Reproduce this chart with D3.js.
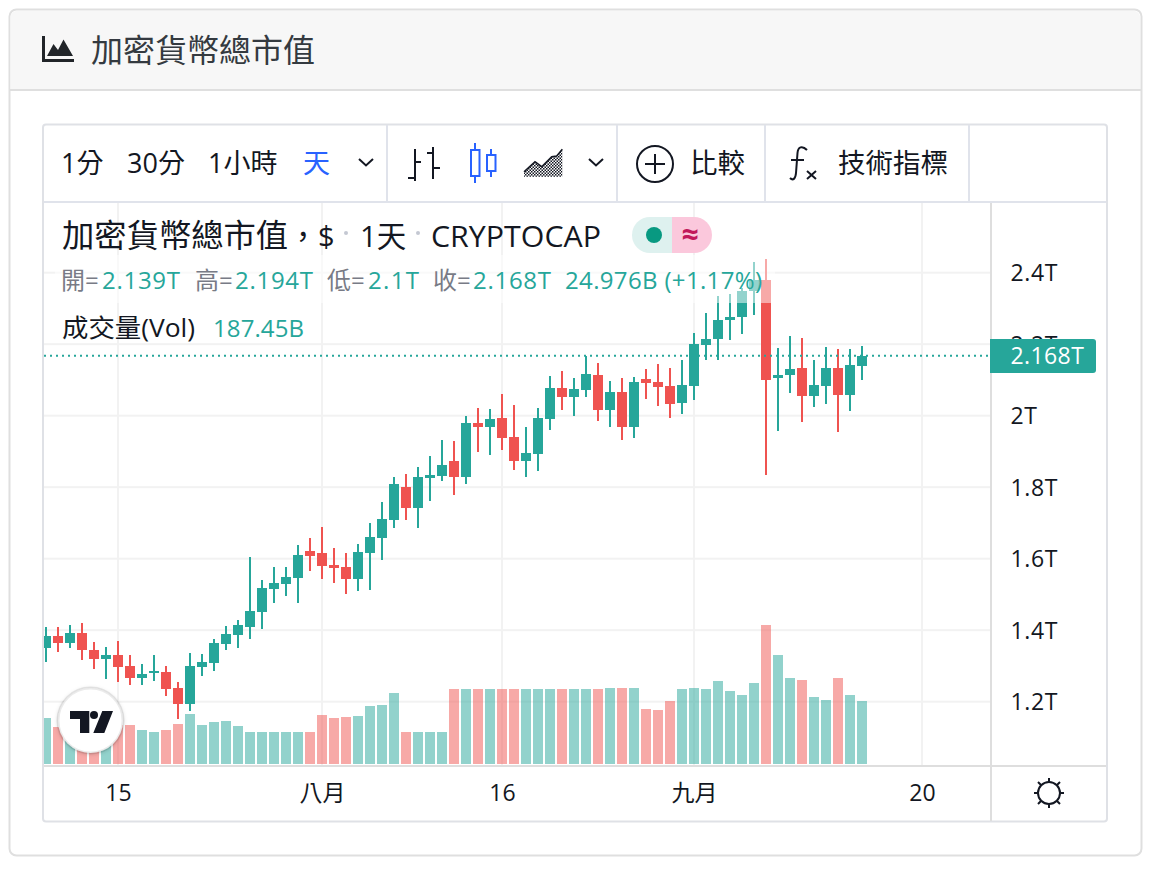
<!DOCTYPE html>
<html lang="zh-Hant">
<head>
<meta charset="utf-8">
<title>加密貨幣總市值</title>
<script src="https://cdnjs.cloudflare.com/ajax/libs/d3/7.8.5/d3.min.js"></script>
<style>
  html, body { margin: 0; padding: 0; background: #fff; }
  svg { display: block; }
  text { font-family: "Open Sans", "Noto Sans CJK TC", sans-serif; }
</style>
</head>
<body>
<svg id="chart" width="1154" height="870"></svg>
<script>
// Daily OHLC and volume for total crypto market cap, in trillions and billions of USD.
const firstDay = "2021-07-09";
const opens = [1.350,1.384,1.364,1.392,1.345,1.319,1.331,1.300,1.266,1.280,1.283,1.238,1.194,1.297,1.308,1.361,1.387,1.409,1.451,1.515,1.529,1.546,1.622,1.616,1.582,1.577,1.543,1.616,1.658,1.708,1.801,1.742,1.827,1.831,1.873,1.828,1.980,1.968,1.994,1.940,1.873,1.893,1.991,2.078,2.052,2.072,2.114,2.016,2.066,1.968,2.103,2.094,2.083,2.036,2.083,2.198,2.215,2.268,2.276,2.349,2.380,2.105,2.114,2.133,2.055,2.083,2.133,2.058,2.139];
const highs = [1.409,1.409,1.415,1.420,1.367,1.353,1.370,1.331,1.306,1.331,1.300,1.255,1.336,1.333,1.375,1.412,1.429,1.605,1.540,1.577,1.577,1.638,1.658,1.689,1.630,1.616,1.641,1.700,1.759,1.828,1.837,1.857,1.887,1.932,1.929,1.999,2.022,2.019,2.061,2.030,1.968,2.022,2.111,2.125,2.105,2.167,2.147,2.097,2.105,2.108,2.131,2.145,2.133,2.156,2.231,2.287,2.335,2.340,2.357,2.430,2.438,2.189,2.223,2.217,2.156,2.192,2.187,2.187,2.194];
const lows = [1.311,1.339,1.350,1.317,1.292,1.264,1.255,1.247,1.247,1.258,1.216,1.152,1.174,1.272,1.286,1.345,1.350,1.375,1.403,1.476,1.496,1.476,1.566,1.543,1.532,1.501,1.510,1.512,1.596,1.686,1.708,1.686,1.761,1.817,1.778,1.809,1.899,1.890,1.904,1.848,1.828,1.845,1.960,2.016,1.999,2.052,1.985,1.968,1.932,1.938,2.047,2.027,1.994,2.005,2.044,2.156,2.156,2.212,2.229,2.282,1.834,1.957,2.064,1.982,2.024,2.033,1.954,2.013,2.100];
const closes = [1.384,1.364,1.392,1.345,1.319,1.331,1.297,1.266,1.278,1.286,1.236,1.194,1.300,1.311,1.364,1.389,1.415,1.454,1.518,1.532,1.549,1.610,1.608,1.580,1.574,1.543,1.619,1.661,1.711,1.809,1.742,1.828,1.833,1.862,1.828,1.980,1.968,1.991,1.938,1.873,1.896,1.994,2.078,2.052,2.075,2.117,2.016,2.066,1.968,2.094,2.091,2.080,2.033,2.086,2.201,2.215,2.268,2.276,2.349,2.380,2.100,2.114,2.131,2.055,2.086,2.133,2.058,2.142,2.168];
const volumes = [137,110,125,116,92,92,116,116,101,95,101,119,149,116,125,128,113,95,95,95,95,95,95,146,137,140,143,173,176,211,95,95,95,95,223,223,223,223,223,223,223,223,223,223,223,223,223,226,226,226,164,161,187,223,226,223,247,217,205,241,414,324,256,250,199,190,256,205,187.45];

const priceTicks = [1.2, 1.4, 1.6, 1.8, 2.0, 2.2, 2.4];
const priceLabels = ["1.2T", "1.4T", "1.6T", "1.8T", "2T", "2.2T", "2.4T"];
const timeTicks = ["2021-07-15", "2021-08-01", "2021-08-16", "2021-09-01", "2021-09-20"];
const timeLabels = ["15", "八月", "16", "九月", "20"];

const lastPrice = 2.168;
const lastPriceLabel = "2.168T";
const volumeLabel = "187.45B";

const intervalLabels = [["1分", 61], ["30分", 127], ["1小時", 208]];
const ohlcLegend = [
  ["開=", 61, "2.139T", 102, 78], ["高=", 195, "2.194T", 235, 78],
  ["低=", 327, "2.1T", 368, 51], ["收=", 433, "2.168T", 473, 78]
];

const TEAL = "#26a69a", RED = "#ef5350", INK = "#131722";
const pane = { left: 44, right: 990, top: 203, bottom: 766 };

const svg = d3.select("#chart");
const parseDay = d3.utcParse("%Y-%m-%d");
const start = parseDay(firstDay);
const days = opens.map((_, i) => d3.utcDay.offset(start, i));

const x = d3.scaleUtc().domain([start, parseDay("2021-09-20")]).range([46, 922]);
const y = d3.scaleLinear().domain([1.2, 2.4]).range([701.7, 272.7]);
const yVolume = d3.scaleLinear().domain([0, 500]).range([764, 764 - 500 / 2.975]);

const defs = svg.append("defs");
defs.append("clipPath").attr("id", "pane-clip").append("rect")
  .attr("x", pane.left).attr("y", pane.top)
  .attr("width", pane.right - pane.left).attr("height", pane.bottom - pane.top);
const pattern = defs.append("pattern").attr("id", "checker")
  .attr("width", 3).attr("height", 3).attr("patternUnits", "userSpaceOnUse");
pattern.append("rect").attr("width", 1.5).attr("height", 1.5).attr("fill", INK);
pattern.append("rect").attr("x", 1.5).attr("y", 1.5).attr("width", 1.5).attr("height", 1.5).attr("fill", INK);
const shadow = defs.append("filter").attr("id", "logo-shadow")
  .attr("x", "-30%").attr("y", "-30%").attr("width", "160%").attr("height", "160%");
shadow.append("feDropShadow").attr("dx", 0).attr("dy", 1).attr("stdDeviation", 2)
  .attr("flood-color", "#000").attr("flood-opacity", 0.2);

// Card with its header strip
const card = svg.append("g");
card.append("rect").attr("x", 9.5).attr("y", 9.5).attr("width", 1132).attr("height", 846)
  .attr("rx", 7).attr("fill", "#fff").attr("stroke", "#dfdfdf").attr("stroke-width", 2);
card.append("path").attr("d", "M10.5 90V17a6 6 0 0 1 6-6H1134a6 6 0 0 1 6 6V90Z").attr("fill", "#f7f7f7");
card.append("rect").attr("x", 10).attr("y", 89).attr("width", 1131).attr("height", 2).attr("fill", "#dfdfdf");
card.append("path").attr("fill", "#212529")
  .attr("d", "M42 36h3v23h29v3H42Z M47 56l6.5-12 4.5 6 5.5-10.5L73 56Z");
card.append("text").text("加密貨幣總市值").attr("x", 91).attr("y", 62)
  .attr("font-size", 32).attr("fill", "#343a40");

// Price pane: grid, volume, candles, last-price line
const plot = svg.append("g").attr("clip-path", "url(#pane-clip)");

plot.append("g").selectAll("rect").data(priceTicks).join("rect")
  .attr("x", pane.left).attr("width", pane.right - pane.left)
  .attr("y", d => y(d) - 1).attr("height", 2).attr("fill", "#f2f2f2");
plot.append("g").selectAll("rect").data(timeTicks).join("rect")
  .attr("x", d => x(parseDay(d)) - 1).attr("width", 2)
  .attr("y", pane.top).attr("height", pane.bottom - pane.top).attr("fill", "#f2f2f2");

const barColor = i => (closes[i] >= opens[i] ? TEAL : RED);

plot.append("g").selectAll("rect").data(volumes).join("rect")
  .attr("x", (d, i) => x(days[i]) - 5).attr("width", 10)
  .attr("y", d => Math.round(yVolume(d))).attr("height", d => 764 - Math.round(yVolume(d)))
  .attr("fill", (d, i) => barColor(i)).attr("fill-opacity", 0.5);

plot.append("g").selectAll("rect").data(days).join("rect")
  .attr("x", d => x(d) - 1).attr("width", 2)
  .attr("y", (d, i) => Math.round(y(highs[i])))
  .attr("height", (d, i) => Math.round(y(lows[i])) - Math.round(y(highs[i])))
  .attr("fill", (d, i) => barColor(i));

plot.append("g").selectAll("rect").data(days).join("rect")
  .attr("x", d => x(d) - 5).attr("width", 10)
  .attr("y", (d, i) => Math.round(y(Math.max(opens[i], closes[i]))))
  .attr("height", (d, i) => Math.max(2, Math.round(y(Math.min(opens[i], closes[i]))) - Math.round(y(Math.max(opens[i], closes[i])))))
  .attr("fill", (d, i) => barColor(i));

plot.append("line").attr("x1", pane.left).attr("x2", pane.right)
  .attr("y1", y(lastPrice)).attr("y2", y(lastPrice))
  .attr("stroke", TEAL).attr("stroke-width", 2).attr("stroke-dasharray", "2 4");

// Veil behind the legend rows
plot.append("rect").attr("x", 55).attr("y", 255).attr("width", 720).attr("height", 48)
  .attr("fill", "#fff").attr("fill-opacity", 0.5);

// Chart frame and pane dividers
const frame = svg.append("g");
frame.append("rect").attr("x", 43).attr("y", 124.5).attr("width", 1064).attr("height", 697)
  .attr("rx", 3).attr("fill", "none").attr("stroke", "#dfe1e6").attr("stroke-width", 2);
const hRules = [[44, 1106, 202]];
const vRules = [[387, 125, 202], [617, 125, 202], [765, 125, 202], [969, 125, 202]];
frame.selectAll(".h").data(hRules).join("line").attr("class", "h")
  .attr("x1", d => d[0]).attr("x2", d => d[1]).attr("y1", d => d[2]).attr("y2", d => d[2])
  .attr("stroke", "#e0e3eb").attr("stroke-width", 2);
frame.selectAll(".v").data(vRules).join("line").attr("class", "v")
  .attr("x1", d => d[0]).attr("x2", d => d[0]).attr("y1", d => d[1]).attr("y2", d => d[2])
  .attr("stroke", "#e0e3eb").attr("stroke-width", 2);
frame.append("line").attr("x1", 44).attr("x2", 1106).attr("y1", 766).attr("y2", 766)
  .attr("stroke", "#dedede").attr("stroke-width", 2);
frame.append("line").attr("x1", 991).attr("x2", 991).attr("y1", 203).attr("y2", 821)
  .attr("stroke", "#dedede").attr("stroke-width", 2);

// Price axis
const priceAxis = d3.axisRight(y).tickValues(priceTicks)
  .tickFormat((d, i) => priceLabels[i]).tickSize(0).tickPadding(0);
const priceG = svg.append("g").attr("transform", "translate(1010.5,0)").call(priceAxis);
priceG.select(".domain").remove();
priceG.selectAll("text").attr("font-size", 23).attr("fill", INK)
  .attr("font-family", '"Open Sans"').attr("letter-spacing", 0.6).attr("dy", "0.35em");

// Time axis
const timeAxis = d3.axisBottom(x).tickValues(timeTicks.map(parseDay))
  .tickFormat((d, i) => timeLabels[i]).tickSize(0).tickPadding(0);
const timeG = svg.append("g").attr("transform", "translate(0,793)").call(timeAxis);
timeG.select(".domain").remove();
timeG.selectAll("text").attr("font-size", 23).attr("fill", INK).attr("y", 0).attr("dy", "0.35em");

// Last-price badge
svg.append("path").attr("fill", TEAL)
  .attr("d", "M990 339H1093a3 3 0 0 1 3 3V370a3 3 0 0 1-3 3H990Z");
svg.append("text").text(lastPriceLabel).attr("x", 1010.5).attr("y", y(lastPrice) + 8.5)
  .attr("font-size", 23).attr("letter-spacing", 0.4).attr("fill", "#fff");

// Legend
const legend = svg.append("g");
const title = (text, xPos, attrs = {}) => {
  const t = legend.append("text").text(text).attr("x", xPos).attr("y", 247)
    .attr("font-size", 32.3).attr("fill", INK);
  Object.entries(attrs).forEach(([k, v]) => t.attr(k, v));
  return t;
};
title("加密貨幣總市值", 62);
title("\uFF0C", 288, { "font-family": '"Noto Sans CJK TC"', "font-size": 30 });
title("$", 318, { "font-size": 29 });
title("1天", 360, { "font-size": 29.5 });
title("CRYPTOCAP", 431, { "font-size": 30, textLength: 170, lengthAdjust: "spacingAndGlyphs" });
legend.selectAll("circle.sep").data([346, 418]).join("circle").attr("class", "sep")
  .attr("cx", d => d).attr("cy", 233).attr("r", 2).attr("fill", "#c4c8d2");

ohlcLegend.forEach(([name, nameX, val, valX, valW]) => {
  legend.append("text").text(name).attr("x", nameX).attr("y", 289)
    .attr("font-size", 24).attr("fill", "#787b86");
  legend.append("text").text(val).attr("x", valX).attr("y", 289)
    .attr("font-size", 24).attr("fill", TEAL).attr("textLength", valW).attr("lengthAdjust", "spacing");
});
legend.append("text").text("24.976B (+1.17%)").attr("x", 565).attr("y", 289)
  .attr("font-size", 24).attr("fill", TEAL).attr("textLength", 197).attr("lengthAdjust", "spacing");
legend.append("text").text("成交量(Vol)").attr("x", 62).attr("y", 337)
  .attr("font-size", 25.5).attr("fill", INK).attr("textLength", 133).attr("lengthAdjust", "spacingAndGlyphs");
legend.append("text").text(volumeLabel).attr("x", 213).attr("y", 337)
  .attr("font-size", 24).attr("fill", TEAL).attr("textLength", 91).attr("lengthAdjust", "spacing");

// Status pill
legend.append("path").attr("d", "M672 217H650a18 18 0 0 0 0 36H672Z").attr("fill", "#def1ef");
legend.append("path").attr("d", "M672 217H694a18 18 0 0 1 0 36H672Z").attr("fill", "#fbc8dc");
legend.append("circle").attr("cx", 654).attr("cy", 235).attr("r", 8).attr("fill", "#089981");
legend.append("text").text("≈").attr("x", 690).attr("y", 245).attr("text-anchor", "middle")
  .attr("font-size", 30).attr("font-weight", 700).attr("fill", "#c2185b")
  .attr("font-family", '"DejaVu Sans"');

// Toolbar
const bar = svg.append("g");
intervalLabels.forEach(([t, xp]) => {
  bar.append("text").text(t).attr("x", xp).attr("y", 173).attr("font-size", 27).attr("fill", INK);
});
bar.append("text").text("天").attr("x", 303).attr("y", 173).attr("font-size", 27).attr("fill", "#2962ff");
bar.append("text").text("比較").attr("x", 690).attr("y", 173).attr("font-size", 27.5).attr("fill", INK);
bar.append("text").text("技術指標").attr("x", 838).attr("y", 173).attr("font-size", 27.5).attr("fill", INK);

const chevron = "l7 6.5l7 -6.5";
[359, 589].forEach(cx => {
  bar.append("path").attr("d", `M${cx} 159${chevron}`).attr("fill", "none")
    .attr("stroke", INK).attr("stroke-width", 2);
});

const iconLines = "M415 149V181M408 178H415M415 162H421M433 147V179M427 153H433M433 168H440";
bar.append("path").attr("d", iconLines).attr("fill", "none").attr("stroke", INK).attr("stroke-width", 2);

const candleIcon = "M475 143V150M475 176V183M491 149V155M491 171V177M471 150H479.5V176H471ZM487 155H495.5V171H487Z";
bar.append("path").attr("d", candleIcon).attr("fill", "none").attr("stroke", "#2962ff").attr("stroke-width", 2);

bar.append("path").attr("d", "M524 171.7L535 161.7L541.7 166.7L551.7 156.7L556.7 156L562.3 149.3V176.7H524Z")
  .attr("fill", "url(#checker)");
bar.append("path").attr("d", "M524 171.7L535 161.7L541.7 166.7L551.7 156.7L556.7 156L562.3 149.3")
  .attr("fill", "none").attr("stroke", INK).attr("stroke-width", 1.5);

bar.append("circle").attr("cx", 655).attr("cy", 164).attr("r", 18).attr("fill", "none")
  .attr("stroke", INK).attr("stroke-width", 2);
bar.append("path").attr("d", "M655 154V174M645 164H665").attr("stroke", INK).attr("stroke-width", 2);

bar.append("path").attr("d", "M807 150C802 145 798 147 797.5 153L796 173C795.5 179 793 181 790 178M791 160H804M807 171L816 179M816 171L807 179")
  .attr("fill", "none").attr("stroke", INK).attr("stroke-width", 2);

// Brightness control in the corner of the axes
const sun = svg.append("g").attr("transform", "translate(1049,793)")
  .attr("stroke", INK).attr("stroke-width", 2).attr("fill", "none");
sun.append("circle").attr("r", 11);
sun.append("path").attr("d", "M0 -15V-11M0 11V15M-15 0H-11M11 0H15M-11 -11L-8 -8M11 -11L8 -8M-11 11L-8 8M11 11L8 8");

// Attribution badge
const logo = svg.append("g");
logo.append("circle").attr("cx", 90.5).attr("cy", 720.5).attr("r", 32.5)
  .attr("fill", "#fff").attr("stroke", "#000").attr("stroke-opacity", 0.08).attr("stroke-width", 3)
  .attr("filter", "url(#logo-shadow)");
logo.append("path").attr("fill", INK)
  .attr("d", "M70 711H89.3V733H80V719H70Z M113 711L104.3 733H93.3L102.3 711Z");
logo.append("circle").attr("cx", 94).attr("cy", 715).attr("r", 4).attr("fill", INK);
</script>
</body>
</html>
